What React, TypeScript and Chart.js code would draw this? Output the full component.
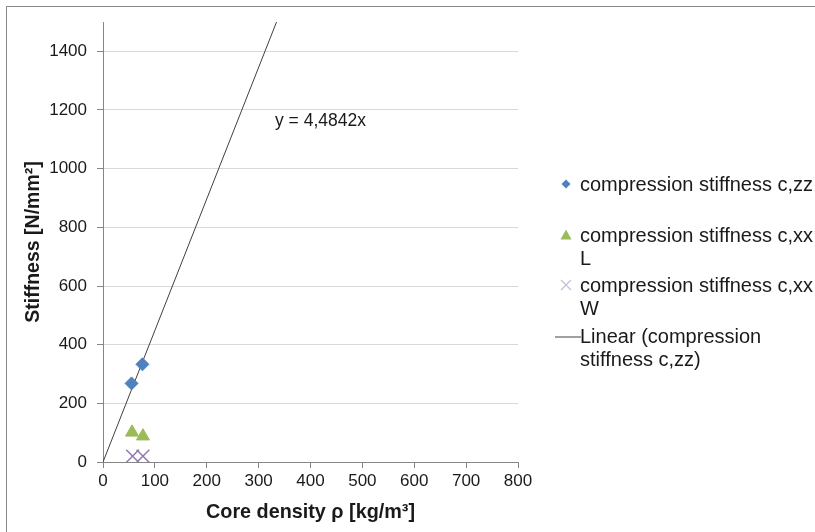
import React, { useEffect, useRef } from "react";
import { Chart, registerables } from "chart.js";

Chart.register(...registerables);

// ---- data ----
const czzDensity = [55, 76];
const czzStiffness = [268, 333];
const cxxLDensity = [56, 77];
const cxxLStiffness = [101, 88];
const cxxWDensity = [57, 77];
const cxxWStiffness = [20, 20];
const trendSlope = 4.4842;
const trendDensity = [0, 334.5];
const xTickValues = [0, 100, 200, 300, 400, 500, 600, 700, 800];
const yTickValues = [0, 200, 400, 600, 800, 1000, 1200, 1400];
const seriesNames = [
  "compression stiffness c,zz",
  "compression stiffness c,xx L",
  "compression stiffness c,xx W",
  "Linear (compression stiffness c,zz)",
];
const legendLines = [
  ["compression stiffness c,zz"],
  ["compression stiffness c,xx", "L"],
  ["compression stiffness c,xx", "W"],
  ["Linear (compression", "stiffness c,zz)"],
];
const equationLabel = "y = 4,4842x";
const xTitle = "Core density \u03C1 [kg/m\u00B3]";
const yTitle = "Stiffness [N/mm\u00B2]";

const FONT = "'Liberation Sans', Arial, sans-serif";
const BLUE = "#4F81BD";
const GREEN = "#9BBB59";
const PURPLE = "#8064A2";
const AXIS = "#868686";
const GRID = "#D9D9D9";
const TEXT = "#1a1a1a";

const toPoints = (xs: number[], ys: number[]) => xs.map((x, i) => ({ x, y: ys[i] }));

export default function App() {
  const ref = useRef<HTMLCanvasElement | null>(null);

  useEffect(() => {
    if (!ref.current) return;
    const chart = new Chart(ref.current, {
      type: "scatter",
      data: {
        datasets: [
          {
            label: seriesNames[0],
            data: toPoints(czzDensity, czzStiffness),
            pointStyle: "rectRot",
            pointRadius: 6.5,
            backgroundColor: BLUE,
            borderColor: BLUE,
            borderWidth: 1,
          },
          {
            label: seriesNames[1],
            data: toPoints(cxxLDensity, cxxLStiffness),
            pointStyle: "triangle",
            pointRadius: 7.5,
            backgroundColor: GREEN,
            borderColor: GREEN,
            borderWidth: 1,
          },
          {
            label: seriesNames[2],
            data: toPoints(cxxWDensity, cxxWStiffness),
            pointStyle: "crossRot",
            pointRadius: 9,
            backgroundColor: PURPLE,
            borderColor: "#9079B0",
            borderWidth: 1.5,
          },
          {
            type: "line",
            label: seriesNames[3],
            data: trendDensity.map((x) => ({ x, y: trendSlope * x })),
            showLine: true,
            pointRadius: 0,
            borderColor: "#404040",
            borderWidth: 1,
            fill: false,
          } as any,
        ],
      },
      options: {
        responsive: false,
        animation: false,
        layout: { padding: { top: 22, right: 297, left: 0, bottom: 0 } },
        plugins: {
          legend: { display: false },
          tooltip: { enabled: false },
        },
        scales: {
          x: {
            type: "linear",
            min: 0,
            max: 800,
            afterBuildTicks: (axis: any) => {
              axis.ticks = xTickValues.map((v) => ({ value: v }));
            },
            afterFit: (axis: any) => {
              axis.height = 70;
            },
            ticks: {
              font: { family: FONT, size: 17 },
              color: TEXT,
              padding: 3,
              maxRotation: 0,
              callback: (v: any) => String(v),
            },
            grid: {
              drawOnChartArea: false,
              drawTicks: true,
              tickLength: 6,
              tickColor: AXIS,
              color: AXIS,
            },
            border: { color: AXIS, width: 1 },
            title: {
              display: true,
              text: xTitle,
              font: { family: FONT, size: 19.8, weight: "bold" },
              color: TEXT,
              padding: { top: 0, bottom: 8 },
            },
          },
          y: {
            type: "linear",
            min: 0,
            max: 1500,
            afterBuildTicks: (axis: any) => {
              axis.ticks = yTickValues.map((v) => ({ value: v }));
            },
            afterFit: (axis: any) => {
              axis.width = 103;
            },
            ticks: {
              font: { family: FONT, size: 17 },
              color: TEXT,
              padding: 10,
              callback: (v: any) => String(v),
            },
            grid: {
              color: GRID,
              drawTicks: true,
              tickLength: 6,
              tickColor: AXIS,
            },
            border: { color: AXIS, width: 1 },
            title: {
              display: true,
              text: yTitle,
              font: { family: FONT, size: 19.5, weight: "bold" },
              color: TEXT,
              padding: { top: 22, bottom: 0 },
            },
          },
        },
      },
    });
    return () => chart.destroy();
  }, []);

  const legendTop = [184, 235, 285, 336];
  const markers = [
    <svg width="14" height="14" viewBox="-7 -7 14 14"><polygon points="0,-4.5 4.5,0 0,4.5 -4.5,0" fill={BLUE} /></svg>,
    <svg width="14" height="14" viewBox="-7 -7 14 14"><polygon points="0,-5.5 5.5,4.5 -5.5,4.5" fill={GREEN} /></svg>,
    <svg width="14" height="14" viewBox="-7 -7 14 14"><path d="M-5,-5 L5,5 M-5,5 L5,-5" stroke="#C7BDDA" strokeWidth="1.2" /></svg>,
    <svg width="26" height="4" viewBox="0 0 26 4"><line x1="0" y1="2" x2="26" y2="2" stroke="#404040" strokeWidth="1" /></svg>,
  ];

  return (
    <div
      style={{
        position: "absolute",
        left: 0,
        top: 0,
        width: 815,
        height: 532,
        overflow: "hidden",
        background: "#fff",
        fontFamily: FONT,
      }}
    >
      <div
        style={{
          position: "absolute",
          left: 6,
          top: 6,
          width: 900,
          height: 600,
          borderTop: "1.5px solid #8a8a8a",
          borderLeft: "1.5px solid #8a8a8a",
        }}
      />
      <canvas ref={ref} width={815} height={532} style={{ position: "absolute", left: 0, top: 0, display: "block" }} />
      <div
        style={{
          position: "absolute",
          left: 275,
          top: 109,
          fontSize: 17.5,
          lineHeight: "22px",
          color: TEXT,
          whiteSpace: "nowrap",
        }}
      >
        {equationLabel}
      </div>
      {legendLines.map((lines, i) => (
        <React.Fragment key={i}>
          <div
            style={{
              position: "absolute",
              left: i === 3 ? 555 : 559,
              top: legendTop[i] - (i === 3 ? 2 : 7),
              lineHeight: 0,
            }}
          >
            {markers[i]}
          </div>
          <div
            style={{
              position: "absolute",
              left: 580,
              top: legendTop[i] - 11,
              fontSize: 20,
              lineHeight: "23px",
              color: TEXT,
              whiteSpace: "nowrap",
            }}
          >
            {lines.map((l, j) => (
              <div key={j}>{l}</div>
            ))}
          </div>
        </React.Fragment>
      ))}
    </div>
  );
}
